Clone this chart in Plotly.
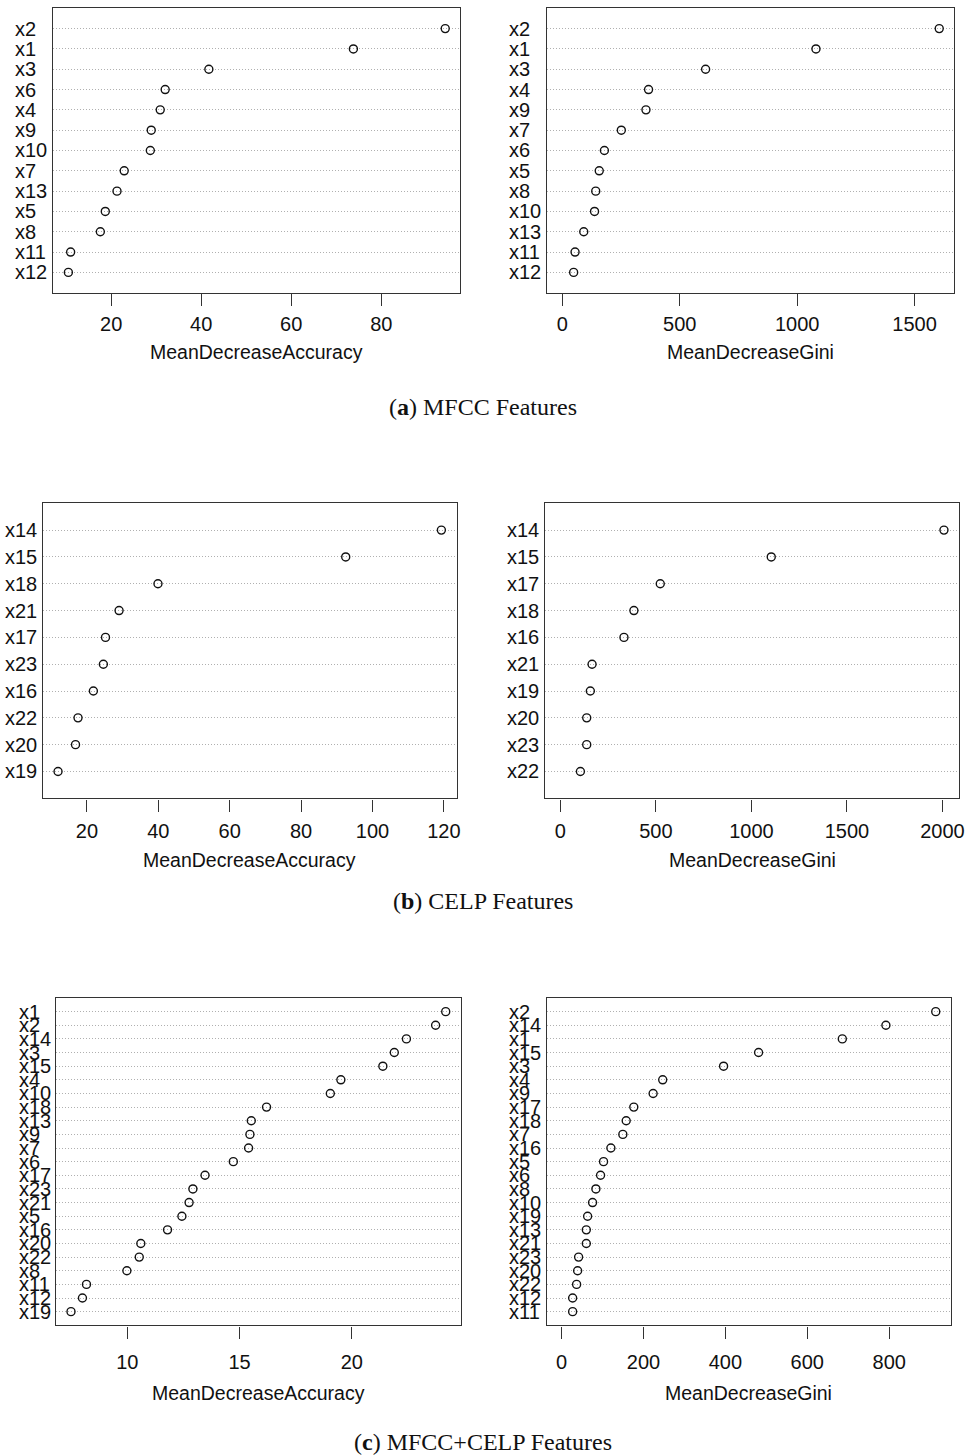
import plotly.graph_objects as go

W, H = 966, 1456

# ---------------- data ----------------
a_acc_labels = ["x2", "x1", "x3", "x6", "x4", "x9", "x10", "x7", "x13", "x5", "x8", "x11", "x12"]
a_acc_values = [94.2, 73.8, 41.7, 32.0, 30.9, 28.9, 28.7, 22.9, 21.3, 18.7, 17.6, 11.0, 10.5]

a_gini_labels = ["x2", "x1", "x3", "x4", "x9", "x7", "x6", "x5", "x8", "x10", "x13", "x11", "x12"]
a_gini_values = [1605, 1080, 610, 367, 356, 251, 179, 157, 142, 137, 91, 54, 48]

b_acc_labels = ["x14", "x15", "x18", "x21", "x17", "x23", "x16", "x22", "x20", "x19"]
b_acc_values = [119.3, 92.5, 39.9, 29.0, 25.2, 24.6, 21.8, 17.5, 16.8, 11.9]

b_gini_labels = ["x14", "x15", "x17", "x18", "x16", "x21", "x19", "x20", "x23", "x22"]
b_gini_values = [2008, 1104, 523, 385, 333, 166, 157, 138, 138, 105]

c_acc_labels = ["x1", "x2", "x14", "x3", "x15", "x4", "x10", "x18", "x13", "x9", "x7", "x6",
                "x17", "x23", "x21", "x5", "x16", "x20", "x22", "x8", "x11", "x12", "x19"]
c_acc_values = [24.18, 23.73, 22.43, 21.89, 21.38, 19.51, 19.04, 16.20, 15.52, 15.46, 15.40, 14.72,
                13.46, 12.92, 12.75, 12.43, 11.79, 10.60, 10.53, 9.98, 8.18, 8.00, 7.49]

c_gini_labels = ["x2", "x14", "x1", "x15", "x3", "x4", "x9", "x17", "x18", "x7", "x16", "x5",
                 "x6", "x8", "x10", "x19", "x13", "x21", "x23", "x20", "x22", "x12", "x11"]
c_gini_values = [913.7, 792, 685.5, 481, 395.5, 246.8, 223.4, 176.2, 157.6, 149.4, 120.2, 102.3,
                 95.0, 83.6, 75.5, 63.4, 60.2, 60.2, 41.4, 39.0, 36.5, 26.8, 26.8]

captions = ["(<b>a</b>) MFCC Features", "(<b>b</b>) CELP Features", "(<b>c</b>) MFCC+CELP Features"]
acc_title = "MeanDecreaseAccuracy"
gini_title = "MeanDecreaseGini"

# ---------------- layout geometry (pixels) ----------------
SANS = "Liberation Sans, Arial, sans-serif"
SERIF = "Liberation Serif, Times New Roman, serif"

panels = [
    # labels, values, kind, box(x0,x1,y0,y1), label_x, dtick, title_y, label standoff
    (a_acc_labels, a_acc_values, "acc", (53.3, 460.3, 8.3, 292.7), 13, 20, 352, 1),
    (a_gini_labels, a_gini_values, "gini", (547.3, 954.3, 8.3, 292.7), 507, 500, 352, 1),
    (b_acc_labels, b_acc_values, "acc", (42.7, 456.7, 503.3, 798.3), 3, 20, 860, 2),
    (b_gini_labels, b_gini_values, "gini", (545.0, 959.3, 503.3, 798.3), 505, 500, 860, 2),
    (c_acc_labels, c_acc_values, "acc", (56.0, 460.7, 998.0, 1325.3), 17, 5, 1393, 6),
    (c_gini_labels, c_gini_values, "gini", (546.7, 950.7, 998.0, 1325.3), 507, 200, 1393, 6),
]
caption_y = [407, 901, 1442]

fig = go.Figure()
annotations = []
layout = dict()

for i, (labels, values, kind, box, lab_x, dtick, title_y, stand) in enumerate(panels, start=1):
    n = len(labels)
    rows = [n - k for k in range(n)]
    xa = "x" if i == 1 else f"x{i}"
    ya = "y" if i == 1 else f"y{i}"
    fig.add_trace(go.Scatter(
        x=values, y=rows, mode="markers", xaxis=xa, yaxis=ya,
        marker=dict(symbol="circle-open", size=8, color="#111",
                    line=dict(width=1.4, color="#111")),
        showlegend=False, hoverinfo="x+text", text=labels,
    ))
    vmin, vmax = min(values), max(values)
    if kind == "gini":
        lo, hi = 0.0, vmax
    else:
        lo, hi = vmin, vmax
    r = hi - lo
    xr = [lo - 0.04 * r, hi + 0.04 * r]
    x0, x1, y0, y1 = box
    layout["xaxis" if i == 1 else f"xaxis{i}"] = dict(
        domain=[x0 / W, x1 / W], anchor=ya, range=xr,
        tickmode="linear", tick0=0, dtick=dtick,
        ticks="outside", ticklen=12, tickwidth=1.3, tickcolor="#333",
        showline=True, mirror=True, linecolor="#333", linewidth=1.4,
        showgrid=False, zeroline=False, automargin=False,
        tickfont=dict(family=SANS, size=20, color="#111"),
        ticklabelstandoff=stand,
    )
    layout["yaxis" if i == 1 else f"yaxis{i}"] = dict(
        domain=[1 - y1 / H, 1 - y0 / H], anchor=xa, range=[0, n + 1],
        tickmode="array", tickvals=rows, showticklabels=False, ticks="",
        showgrid=True, gridcolor="#b0b0b0", griddash="1px,2px", gridwidth=1,
        showline=True, mirror=True, linecolor="#333", linewidth=1.4,
        zeroline=False, automargin=False,
    )
    # category labels, left aligned (as R dotchart)
    for lab, rv in zip(labels, rows):
        annotations.append(dict(
            x=lab_x / W, xref="paper", y=rv, yref=ya, text=lab, showarrow=False,
            xanchor="left", yanchor="middle",
            font=dict(family=SANS, size=20, color="#111"),
        ))
    # axis title
    annotations.append(dict(
        x=(x0 + x1) / 2 / W, xref="paper", y=1 - title_y / H, yref="paper",
        text=acc_title if kind == "acc" else gini_title, showarrow=False,
        xanchor="center", yanchor="middle",
        font=dict(family=SANS, size=19.5, color="#111"),
    ))

for cap, cy in zip(captions, caption_y):
    annotations.append(dict(
        x=483 / W, xref="paper", y=1 - cy / H, yref="paper", text=cap,
        showarrow=False, xanchor="center", yanchor="middle",
        font=dict(family=SERIF, size=24, color="#111"),
    ))

fig.update_layout(
    width=W, height=H, margin=dict(l=0, r=0, t=0, b=0),
    paper_bgcolor="white", plot_bgcolor="white",
    annotations=annotations, showlegend=False, **layout,
)

fig.write_html("out.html")
